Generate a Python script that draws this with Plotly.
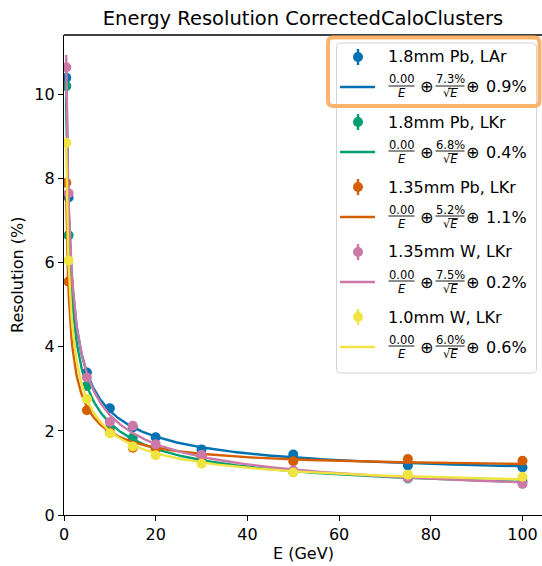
import numpy as np
import plotly.graph_objects as go

# ---------------- data ----------------
energies = [0.5, 1, 5, 10, 15, 20, 30, 50, 75, 100]

series_names = ["1.8mm Pb, LAr", "1.8mm Pb, LKr", "1.35mm Pb, LKr", "1.35mm W, LKr", "1.0mm W, LKr"]

res_18pb_lar = [10.40, 7.55, 3.39, 2.54, 2.08, 1.85, 1.56, 1.44, 1.18, 1.13]
res_18pb_lkr = [10.20, 6.65, 3.07, 2.07, 1.84, 1.58, 1.32, 1.02, 0.87, 0.80]
res_135pb_lkr = [7.90, 5.55, 2.49, 1.96, 1.60, 1.56, 1.40, 1.28, 1.33, 1.29]
res_135w_lkr = [10.65, 7.65, 3.27, 2.21, 2.12, 1.68, 1.43, 1.06, 0.88, 0.74]
res_10w_lkr = [8.85, 6.05, 2.76, 1.94, 1.63, 1.42, 1.22, 1.01, 0.96, 0.91]
all_res = [res_18pb_lar, res_18pb_lkr, res_135pb_lkr, res_135w_lkr, res_10w_lkr]

# fit parameters shown in the legend: a/E (+) b/sqrt(E) (+) c   [%]
fit_a = [0.00, 0.00, 0.00, 0.00, 0.00]
fit_b = [7.3, 6.8, 5.2, 7.5, 6.0]
fit_c = [0.9, 0.4, 1.1, 0.2, 0.6]

x_ticks = [0, 20, 40, 60, 80, 100]
y_ticks = [0, 2, 4, 6, 8, 10]

# ---------------- style ----------------
colors = ["#0072B2", "#009E73", "#D55E00", "#CC79A7", "#F0E442"]
FONT = "DejaVu Sans"
W, H = 542, 566
L, R, T, B = 64, 542, 35, 515   # plot area in pixels
FRAC = 11.5                     # font size of stacked fraction parts


def px(x):
    return (x - L) / (R - L)


def py(y):
    return (B - y) / (B - T)


def rrect(x0, y0, x1, y1, r):
    pts = [
        ("M", x0 + r, y0), ("L", x1 - r, y0), ("Q", x1, y0, x1, y0 + r),
        ("L", x1, y1 - r), ("Q", x1, y1, x1 - r, y1), ("L", x0 + r, y1),
        ("Q", x0, y1, x0, y1 - r), ("L", x0, y0 + r), ("Q", x0, y0, x0 + r, y0),
    ]
    out = []
    for p in pts:
        cmd = p[0]
        coords = p[1:]
        s = []
        for k in range(0, len(coords), 2):
            s.append(f"{px(coords[k]):.5f},{py(coords[k+1]):.5f}")
        out.append(cmd + " " + " ".join(s))
    return " ".join(out) + " Z"


fig = go.Figure()

e_fit = np.linspace(0.47, 100, 500)
for name, vals, a, b, c, col in zip(series_names, all_res, fit_a, fit_b, fit_c, colors):
    fig.add_trace(go.Scatter(x=energies, y=vals, mode="markers",
                             marker=dict(color=col, size=10, line=dict(width=0)),
                             showlegend=False, name=name))
    curve = np.sqrt((a / e_fit) ** 2 + b ** 2 / e_fit + c ** 2)
    fig.add_trace(go.Scatter(x=e_fit, y=curve, mode="lines",
                             line=dict(color=col, width=2.4),
                             showlegend=False, name=name + " fit"))

shapes = []
annotations = []


def txt(text, x, y, size, anchor="center"):
    annotations.append(dict(text=text, x=px(x), y=py(y), xref="paper", yref="paper",
                            xanchor=anchor, yanchor="middle", showarrow=False, borderpad=0,
                            font=dict(family=FONT, size=size, color="black")))


def hline(x0, x1, y, color, width):
    shapes.append(dict(type="line", xref="paper", yref="paper", x0=px(x0), x1=px(x1),
                       y0=py(y), y1=py(y), line=dict(color=color, width=width), layer="above"))


# top spine
shapes.append(dict(type="line", xref="paper", yref="paper", x0=0, x1=1, y0=1, y1=1,
                   line=dict(color="black", width=1.3), layer="above"))

# legend box
shapes.append(dict(type="path", xref="paper", yref="paper", path=rrect(336.5, 43, 536.5, 373, 4),
                   fillcolor="rgba(255,255,255,0.85)", line=dict(color="#d4d4d4", width=1), layer="above"))

for i, (name, a, b, c, col) in enumerate(zip(series_names, fit_a, fit_b, fit_c, colors)):
    ym = 57 + 65 * i
    yl = 87 + 65 * i
    # errorbar marker glyph
    shapes.append(dict(type="line", xref="paper", yref="paper", x0=px(358), x1=px(358),
                       y0=py(ym - 8), y1=py(ym + 8), line=dict(color=col, width=2.4), layer="above"))
    shapes.append(dict(type="circle", xref="paper", yref="paper", x0=px(353), x1=px(363),
                       y0=py(ym - 5), y1=py(ym + 5), fillcolor=col, line=dict(width=0), layer="above"))
    txt(name, 387, ym, 16, "left")
    # line sample
    hline(340, 375, yl, col, 2.4)
    # formula a/E (+) b/sqrt(E) (+) c
    txt(f"{a:.2f}", 401.5, yl - 7.5, FRAC)
    hline(388.5, 414.5, yl - 1, "black", 0.9)
    txt("<i>E</i>", 401.5, yl + 6.5, FRAC)
    txt("⊕", 426, yl, 16)
    txt(f"{b:.1f}%", 450, yl - 7.5, FRAC)
    hline(435.5, 464.5, yl - 1, "black", 0.9)
    txt("√<i>E</i>", 450, yl + 6.5, FRAC)
    hline(448, 458, yl + 1.5, "black", 0.8)
    txt("⊕", 472.5, yl, 16)
    txt(f"{c:.1f}%", 485, yl, 16, "left")

# orange highlight around first legend entry
shapes.append(dict(type="path", xref="paper", yref="paper", path=rrect(328, 37.5, 539.5, 106, 5),
                   fillcolor="rgba(0,0,0,0)", line=dict(color="#FDB36B", width=4), layer="above"))

# axis titles
txt("E (GeV)", (L + R) / 2, 553, 16)
annotations.append(dict(text="Resolution (%)", x=px(17), y=0.5, xref="paper", yref="paper",
                        xanchor="center", yanchor="middle", showarrow=False, textangle=-90,
                        font=dict(family=FONT, size=16, color="black")))

fig.update_layout(
    width=W, height=H,
    margin=dict(l=L, r=W - R, t=T, b=H - B, pad=0),
    paper_bgcolor="white", plot_bgcolor="white",
    title=dict(text="Energy Resolution CorrectedCaloClusters", x=0.5, xref="paper",
               y=1 - 18 / H, yref="container", xanchor="center", yanchor="middle",
               font=dict(family=FONT, size=19.5, color="black")),
    font=dict(family=FONT, size=16, color="black"),
    shapes=shapes, annotations=annotations,
    showlegend=False,
)
fig.update_xaxes(range=[0, 100 * (R - L) / 458.5], tickvals=x_ticks, ticktext=[str(v) for v in x_ticks],
                 showgrid=False, zeroline=False, showline=True, linecolor="black", linewidth=1.3,
                 ticks="outside", ticklen=5, tickwidth=1.3, tickcolor="black",
                 tickfont=dict(family=FONT, size=16, color="black"))
fig.update_yaxes(range=[0, (B - T) / 42.05], tickvals=y_ticks, ticktext=[str(v) for v in y_ticks],
                 showgrid=False, zeroline=False, showline=True, linecolor="black", linewidth=1.3,
                 ticks="outside", ticklen=5, tickwidth=1.3, tickcolor="black",
                 tickfont=dict(family=FONT, size=16, color="black"))

fig.write_html("out.html")
